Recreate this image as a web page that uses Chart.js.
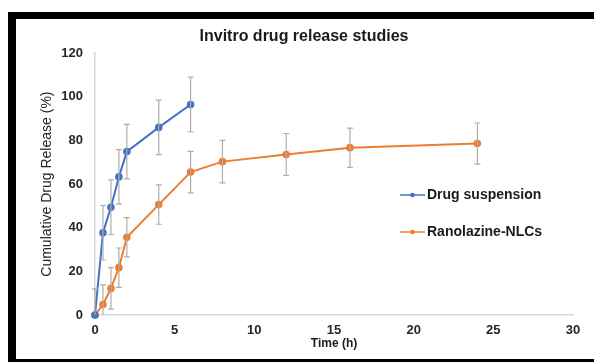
<!DOCTYPE html>
<html>
<head>
<meta charset="utf-8">
<script src="https://cdn.jsdelivr.net/npm/chart.js@4.4.0/dist/chart.umd.min.js"></script>
<style>
  html, body { margin: 0; padding: 0; background: #fff; }
  #wrap { position: relative; width: 594px; height: 362px; overflow: hidden; }
  #chart { position: absolute; left: 0; top: 0; }
  .bar { position: absolute; background: #000; }
</style>
</head>
<body>
<div id="wrap">
  <canvas id="chart" width="594" height="362"></canvas>
  <div class="bar" style="left:8px; top:12px; width:586px; height:7px;"></div>
  <div class="bar" style="left:8px; top:12px; width:8px; height:350px;"></div>
  <div class="bar" style="left:8px; top:359px; width:586px; height:3px;"></div>
</div>
<script>
// data
const suspTime = [0, 0.5, 1, 1.5, 2, 4, 6];
const suspRelease = [0, 37.7, 49.4, 63.3, 74.9, 86, 96.5];
const suspError = [12, 12.5, 12.5, 12.5, 12.5, 12.5, 12.5];

const nlcTime = [0, 0.5, 1, 1.5, 2, 4, 6, 8, 12, 16, 24];
const nlcRelease = [0, 4.8, 12.2, 21.7, 35.6, 50.6, 65.5, 70.3, 73.6, 76.7, 78.6];
const nlcError = [0, 9, 9.5, 9, 9, 9, 9.5, 9.7, 9.6, 9, 9.4];

const seriesNames = ["Drug suspension", "Ranolazine-NLCs"];
const xTicks = [0, 5, 10, 15, 20, 25, 30];
const yTicks = [0, 20, 40, 60, 80, 100, 120];

const blue = "#4472C4";
const orange = "#ED7D31";
const font = "'Liberation Sans', Arial, sans-serif";

function toPoints(xs, ys) {
    return xs.map(function (x, i) { return { x: x, y: ys[i] }; });
}

// Vertical error bars, drawn through the scales
const errorBars = {
    id: 'errorBars',
    afterDatasetsDraw(chart) {
        const ctx = chart.ctx;
        const xs = chart.scales.x, ys = chart.scales.y;
        const area = chart.chartArea;
        const errs = [suspError, nlcError];
        ctx.save();
        ctx.beginPath();
        ctx.rect(area.left - 5, area.top - 5, area.right - area.left + 10, area.bottom - area.top + 5);
        ctx.clip();
        ctx.strokeStyle = "#adadad";
        ctx.lineWidth = 1.2;
        chart.data.datasets.forEach(function (ds, d) {
            ds.data.forEach(function (p, i) {
                const e = errs[d][i];
                if (!e) return;
                const px = xs.getPixelForValue(p.x);
                const top = ys.getPixelForValue(p.y + e);
                const bot = ys.getPixelForValue(Math.max(p.y - e, 0));
                ctx.beginPath();
                ctx.moveTo(px, top); ctx.lineTo(px, bot);
                ctx.moveTo(px - 3, top); ctx.lineTo(px + 3, top);
                if (p.y - e > 0) { ctx.moveTo(px - 3, bot); ctx.lineTo(px + 3, bot); }
                ctx.stroke();
            });
        });
        ctx.restore();
    }
};

// Legend placed inside the plot, to the right
const sideLegend = {
    id: 'sideLegend',
    afterDraw(chart) {
        const ctx = chart.ctx;
        const rows = [195, 232];
        ctx.save();
        chart.data.datasets.forEach(function (ds, i) {
            const y = rows[i];
            ctx.strokeStyle = ds.borderColor;
            ctx.lineWidth = 1.5;
            ctx.beginPath();
            ctx.moveTo(400, y); ctx.lineTo(425, y);
            ctx.stroke();
            ctx.fillStyle = ds.borderColor;
            ctx.beginPath();
            ctx.arc(412.5, y, 2.3, 0, Math.PI * 2);
            ctx.fill();
            ctx.fillStyle = "#1a1a1a";
            ctx.font = "bold 14px " + font;
            ctx.textBaseline = "middle";
            ctx.textAlign = "left";
            ctx.fillText(ds.label, 427, y + 0.5);
        });
        ctx.restore();
    }
};

new Chart(document.getElementById("chart"), {
    type: 'scatter',
    data: {
        datasets: [
            {
                label: seriesNames[0],
                data: toPoints(suspTime, suspRelease),
                showLine: true,
                borderColor: blue,
                backgroundColor: blue,
                borderWidth: 2,
                pointRadius: 2.8,
                pointHoverRadius: 2.8,
                clip: false
            },
            {
                label: seriesNames[1],
                data: toPoints(nlcTime, nlcRelease),
                showLine: true,
                borderColor: orange,
                backgroundColor: orange,
                borderWidth: 2,
                pointRadius: 2.8,
                pointHoverRadius: 2.8,
                clip: false
            }
        ]
    },
    options: {
        responsive: false,
        animation: false,
        layout: { padding: { left: 35, right: 21, top: 27, bottom: 7 } },
        plugins: {
            legend: { display: false },
            tooltip: { enabled: false },
            title: {
                display: true,
                text: 'Invitro drug release studies',
                color: '#1a1a1a',
                font: { family: font, size: 16, weight: 'bold' },
                padding: { top: 0, bottom: 7 }
            }
        },
        scales: {
            x: {
                type: 'linear',
                min: 0,
                max: 30,
                afterBuildTicks(scale) { scale.ticks = xTicks.map(function (v) { return { value: v }; }); },
                afterFit(scale) { scale.height = 40; },
                grid: { display: false, drawTicks: false },
                border: { display: true, color: '#d9d9d9', width: 1.5 },
                ticks: { padding: 8, color: '#262626', font: { family: font, size: 13, weight: 'bold' } },
                title: {
                    display: true,
                    text: 'Time (h)',
                    color: '#1a1a1a',
                    font: { family: font, size: 12, weight: 'bold' }
                }
            },
            y: {
                min: 0,
                max: 120,
                afterBuildTicks(scale) { scale.ticks = yTicks.map(function (v) { return { value: v }; }); },
                afterFit(scale) { scale.width = 60; },
                grid: { display: false, drawTicks: false },
                border: { display: true, color: '#d9d9d9', width: 1.5 },
                ticks: { padding: 12, color: '#262626', font: { family: font, size: 13, weight: 'bold' } },
                title: {
                    display: true,
                    text: 'Cumulative Drug Release (%)',
                    color: '#262626',
                    font: { family: font, size: 14, weight: 'normal' }
                }
            }
        }
    },
    plugins: [errorBars, sideLegend]
});
</script>
</body>
</html>
